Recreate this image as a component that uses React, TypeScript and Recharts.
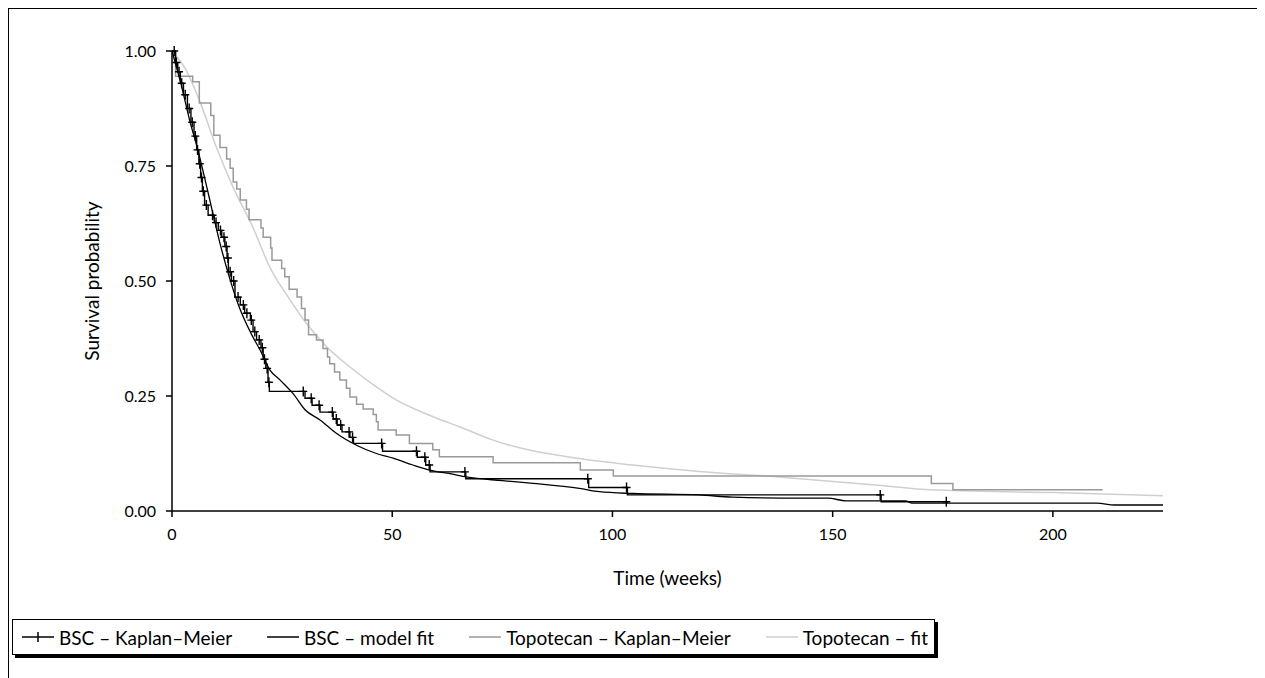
import React from "react";
import { ComposedChart, Line, Scatter, XAxis, YAxis } from "recharts";

const FONT = "Lato, 'DejaVu Sans', sans-serif";
const INK = "#000000";
const KM_GREY = "#9a9a9a"; // topotecan Kaplan-Meier
const FIT_GREY = "#cfcfcf"; // topotecan fit

const xTicks = [0, 50, 100, 150, 200];
const yTicks = [0, 0.25, 0.5, 0.75, 1];

// BSC Kaplan-Meier (step after)
const bscKmWeeks = [
  0, 0.8, 1.3, 1.9, 2.6, 3.5, 4.3, 5.0, 5.6, 6.1, 6.5, 6.9, 7.4, 8.2, 9.6, 10.5, 11.3, 12.0,
  12.5, 12.8, 13.5, 14.3, 15.5, 16.5, 17.8, 18.4, 19.2, 20.2, 20.7, 21.3, 21.8, 22.1, 30.2,
  31.8, 33.6, 36.6, 37.5, 38.6, 40.4, 41.2, 47.8, 55.7, 57.6, 58.6, 66.7, 94.6, 103.4, 161.0,
  176.0,
];
const bscKmSurv = [
  1.0, 0.975, 0.955, 0.93, 0.905, 0.875, 0.845, 0.815, 0.785, 0.755, 0.725, 0.695, 0.665,
  0.643, 0.627, 0.61, 0.595, 0.575, 0.55, 0.52, 0.5, 0.465, 0.448, 0.43, 0.415, 0.39, 0.372,
  0.355, 0.33, 0.31, 0.28, 0.26, 0.245, 0.23, 0.215, 0.2, 0.187, 0.172, 0.16, 0.147, 0.13,
  0.117, 0.1, 0.085, 0.07, 0.051, 0.035, 0.02, 0.017,
];
// censoring marks (+) on the BSC curve
const bscCensorWeeks = [
  0.5, 1.0, 1.6, 2.2, 3.0, 3.9, 4.6, 5.3, 5.8, 6.3, 6.7, 7.1, 7.8, 9.2, 10.0, 11.0, 11.8, 12.3,
  12.7, 13.2, 14.0, 15.0, 16.2, 17.0, 18.0, 18.8, 19.8, 20.5, 21.0, 21.6, 22.0, 29.8, 31.6,
  33.4, 36.4, 37.3, 38.3, 40.2, 41.0, 47.6, 55.5, 57.4, 58.4, 66.5, 94.4, 103.2, 160.8, 175.8,
];

// BSC model fit
const bscFitWeeks = [
  0, 2, 4, 6, 8, 11, 13, 15, 18, 20, 22.2, 24.5, 27.5, 30.2, 33.6, 37.3, 41.9, 46.4, 50.2,
  54.7, 58.5, 63.7, 66.8, 75, 82, 92.5, 97, 104.6, 119.7, 127.3, 142.4, 149, 153, 166.6, 168,
  210, 214, 225,
];
const bscFitSurv = [
  1.0, 0.93, 0.85, 0.78, 0.7, 0.578, 0.509, 0.45, 0.385, 0.35, 0.307, 0.285, 0.255, 0.22,
  0.198, 0.169, 0.143, 0.125, 0.115, 0.1, 0.089, 0.08, 0.074, 0.066, 0.06, 0.049, 0.042, 0.038,
  0.035, 0.03, 0.028, 0.028, 0.022, 0.022, 0.017, 0.017, 0.013, 0.013,
];

// Topotecan Kaplan-Meier (step after)
const topoKmWeeks = [
  0, 0.8, 4.7, 6.2, 8.8, 9.5, 10.9, 12.4, 13.2, 13.9, 14.7, 15.5, 16.9, 17.5, 20.2, 20.7,
  22.4, 22.7, 24.9, 25.6, 26.6, 28.4, 29.4, 30.2, 31.0, 32.8, 34.3, 35.3, 35.8, 36.9, 38.1,
  39.6, 40.4, 41.9, 43.4, 45.7, 46.4, 46.8, 50.9, 53.9, 59.2, 60.7, 72.9, 92.7, 100.2, 172.4,
  177.3, 211.3,
];
const topoKmSurv = [
  1.0, 0.945, 0.933, 0.887, 0.86, 0.817, 0.79, 0.765, 0.745, 0.715, 0.7, 0.676, 0.656, 0.633,
  0.615, 0.595, 0.572, 0.545, 0.527, 0.509, 0.482, 0.465, 0.44, 0.415, 0.383, 0.372, 0.353,
  0.335, 0.32, 0.302, 0.285, 0.267, 0.248, 0.232, 0.222, 0.21, 0.194, 0.176, 0.165, 0.147,
  0.133, 0.118, 0.105, 0.089, 0.076, 0.06, 0.046, 0.046,
];

// Topotecan fit
const topoFitWeeks = [
  0, 3.3, 6.3, 10.1, 13.9, 18.4, 22.2, 26.8, 30.5, 35.1, 40.4, 46.4, 51, 59.3, 65.3, 72.9,
  92.5, 104.6, 119.7, 135, 160.4, 172.4, 200, 225,
];
const topoFitSurv = [
  1.0, 0.957, 0.891, 0.79, 0.703, 0.616, 0.53, 0.459, 0.408, 0.357, 0.313, 0.27, 0.241, 0.205,
  0.183, 0.154, 0.114, 0.1, 0.086, 0.076, 0.056, 0.046, 0.04, 0.033,
];

const zip = (weeks: number[], surv: number[]) => weeks.map((t, i) => ({ t, s: surv[i] }));

// value of the BSC step curve at a given time
function bscKmAt(t: number) {
  let s = bscKmSurv[0];
  bscKmWeeks.forEach((w, i) => {
    if (w <= t) s = bscKmSurv[i];
  });
  return s;
}

const bscKm = zip(bscKmWeeks, bscKmSurv);
const bscFit = zip(bscFitWeeks, bscFitSurv);
const topoKm = zip(topoKmWeeks, topoKmSurv);
const topoFit = zip(topoFitWeeks, topoFitSurv);
const bscCensor = bscCensorWeeks.map((t) => ({ t, s: bscKmAt(t) }));

function Cross(props: { cx?: number; cy?: number }) {
  const { cx, cy } = props;
  if (cx == null || cy == null) return null;
  return (
    <path
      d={`M${cx - 4},${cy}H${cx + 4}M${cx},${cy - 5}V${cy + 5}`}
      stroke={INK}
      strokeWidth={1.4}
      fill="none"
    />
  );
}

function LegendSwatch({ color, cross }: { color: string; cross?: boolean }) {
  return (
    <svg width={34} height={12} style={{ display: "block", marginRight: 4 }}>
      <line x1={1} y1={6} x2={33} y2={6} stroke={color} strokeWidth={1.5} />
      {cross ? <line x1={17} y1={1} x2={17} y2={11} stroke={color} strokeWidth={1.5} /> : null}
    </svg>
  );
}

const legendItems = [
  { label: "BSC – Kaplan–Meier", color: INK, cross: true },
  { label: "BSC – model fit", color: INK },
  { label: "Topotecan – Kaplan–Meier", color: KM_GREY },
  { label: "Topotecan – fit", color: FIT_GREY },
];

export default function App() {
  const tickStyle = { fill: INK, fontSize: 16, fontFamily: FONT };
  const titleStyle = { fill: INK, fontSize: 19, fontFamily: FONT };
  return (
    <div
      style={{
        position: "relative",
        width: 1253,
        height: 700,
        border: `1px solid ${INK}`,
        fontFamily: FONT,
        background: "#fff",
      }}
    >
      <style>{"html,body{overflow:hidden}"}</style>
      <ComposedChart
        width={1253}
        height={600}
        margin={{ top: 42, right: 99, bottom: 18, left: 63 }}
      >
        <XAxis
          type="number"
          dataKey="t"
          domain={[0, 225]}
          ticks={xTicks}
          allowDataOverflow
          axisLine={{ stroke: INK, strokeWidth: 1.5 }}
          tickLine={{ stroke: INK, strokeWidth: 1.5 }}
          tickSize={6}
          tickMargin={12}
          tick={tickStyle}
          height={80}
          label={{ value: "Time (weeks)", position: "insideBottom", offset: 6, style: titleStyle }}
        />
        <YAxis
          type="number"
          dataKey="s"
          domain={[0, 1]}
          ticks={yTicks}
          tickFormatter={(v: number) => v.toFixed(2)}
          axisLine={{ stroke: INK, strokeWidth: 1.5 }}
          tickLine={{ stroke: INK, strokeWidth: 1.5 }}
          tickSize={6}
          tickMargin={10}
          tick={tickStyle}
          width={100}
          label={{
            value: "Survival probability",
            angle: -90,
            position: "insideLeft",
            offset: 20,
            style: { ...titleStyle, textAnchor: "middle" },
          }}
        />
        <Line
          data={topoFit}
          dataKey="s"
          type="monotone"
          stroke={FIT_GREY}
          strokeWidth={1.5}
          dot={false}
          activeDot={false}
          isAnimationActive={false}
        />
        <Line
          data={topoKm}
          dataKey="s"
          type="stepAfter"
          stroke={KM_GREY}
          strokeWidth={1.5}
          dot={false}
          activeDot={false}
          isAnimationActive={false}
        />
        <Line
          data={bscFit}
          dataKey="s"
          type="monotone"
          stroke={INK}
          strokeWidth={1.3}
          dot={false}
          activeDot={false}
          isAnimationActive={false}
        />
        <Line
          data={bscKm}
          dataKey="s"
          type="stepAfter"
          stroke={INK}
          strokeWidth={1.4}
          dot={false}
          activeDot={false}
          isAnimationActive={false}
        />
        <Scatter data={bscCensor} dataKey="s" shape={Cross} isAnimationActive={false} />
      </ComposedChart>
      <div
        style={{
          position: "absolute",
          left: 3,
          top: 610,
          width: 907,
          height: 34,
          display: "flex",
          alignItems: "center",
          justifyContent: "space-between",
          border: `1px solid ${INK}`,
          boxShadow: `3px 3px 0 ${INK}`,
          background: "#fff",
          padding: "0 6px 0 8px",
          fontSize: 19,
          color: INK,
          whiteSpace: "nowrap",
        }}
      >
        {legendItems.map((item) => (
          <div key={item.label} style={{ display: "flex", alignItems: "center" }}>
            <LegendSwatch color={item.color} cross={item.cross} />
            <span>{item.label}</span>
          </div>
        ))}
      </div>
    </div>
  );
}
